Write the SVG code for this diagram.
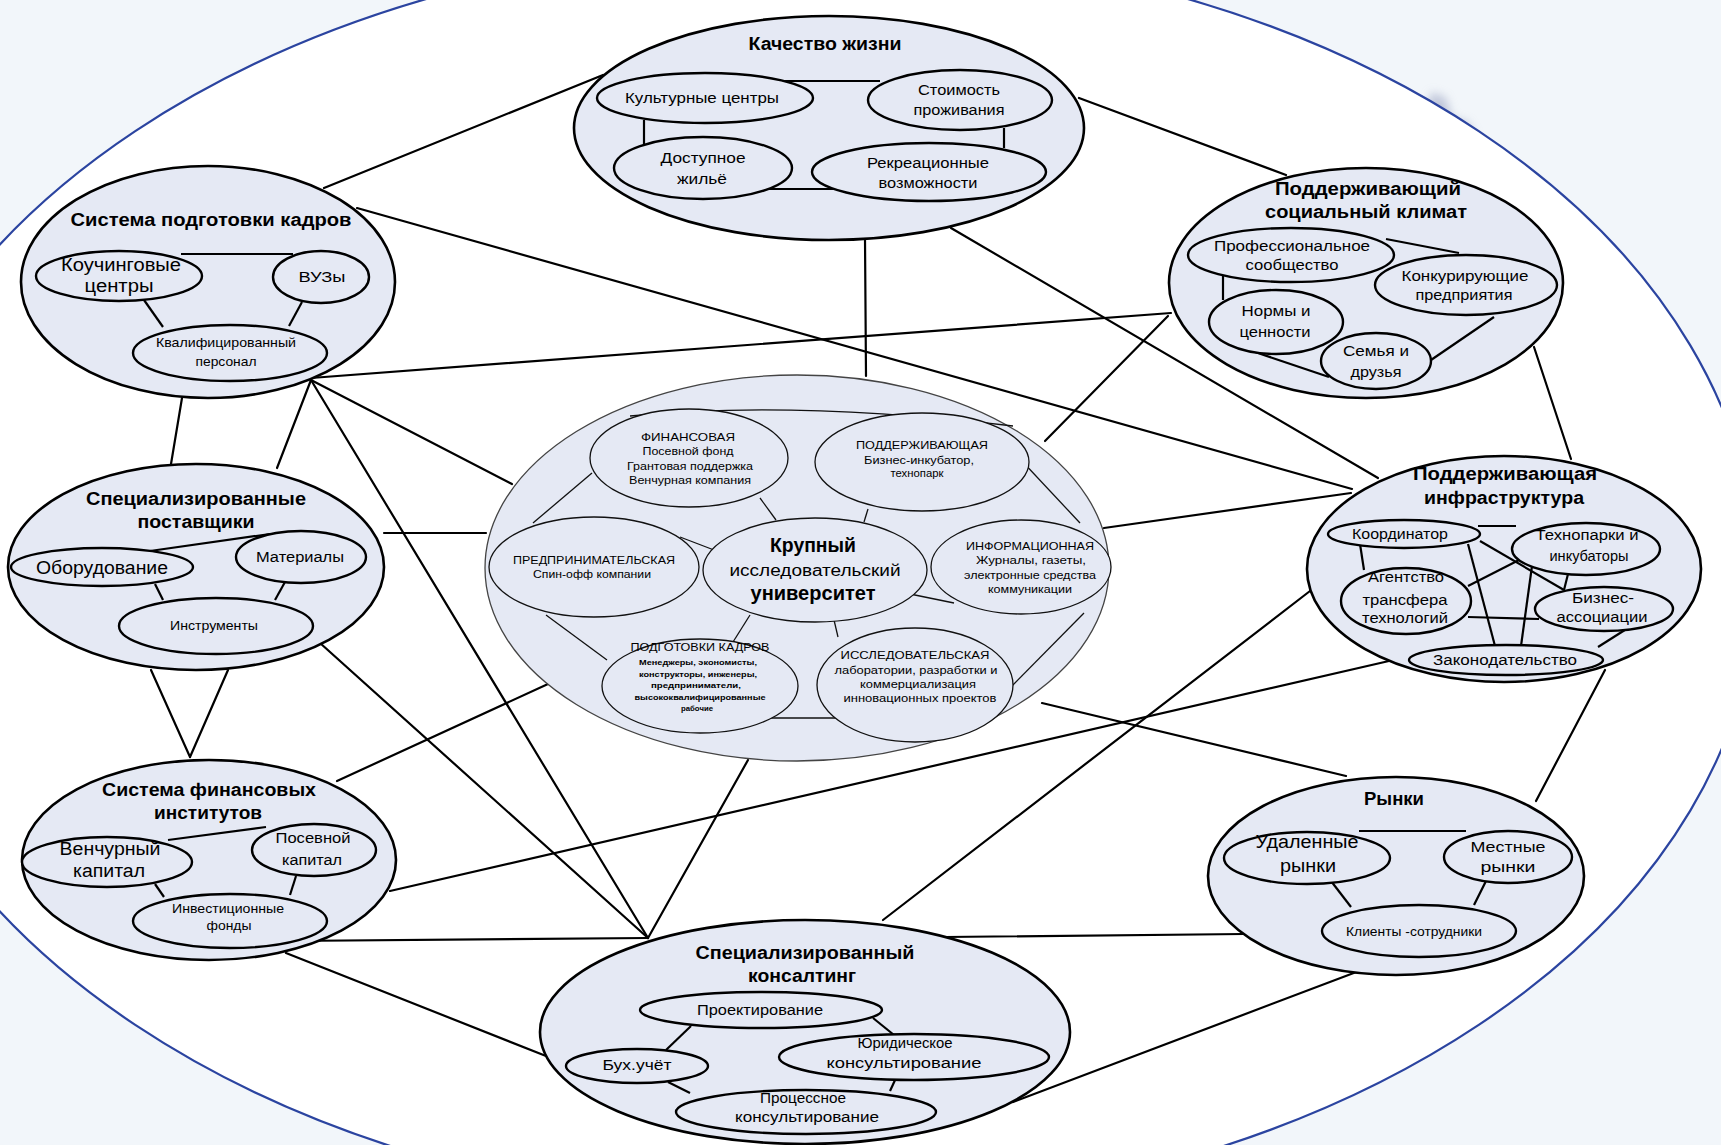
<svg xmlns="http://www.w3.org/2000/svg" width="1721" height="1145" viewBox="0 0 1721 1145">
<style>
.bg{fill:#f2f6fa}
.halo{fill:#ffffff;stroke:#2b44a0;stroke-width:2.2}
.cl{fill:#e5e9f4;stroke:#000;stroke-width:2.6}
.sub{fill:#e5e9f4;stroke:#000;stroke-width:2.4}
.cen{fill:#e5e9f4;stroke:#444;stroke-width:1.3}
.csub{fill:#e5e9f4;stroke:#111;stroke-width:1.3}
.ln{stroke:#000;stroke-width:2.2;fill:none;stroke-linecap:round}
.il{stroke:#000;stroke-width:2.2;fill:none}
.cil{stroke:#111;stroke-width:1.3;fill:none}
text{font-family:"Liberation Sans",Arial,"Noto Sans",sans-serif;text-anchor:middle;fill:#000}
.t{font-weight:bold;font-size:18px}
.s{font-size:14px}
.b{font-size:18px}
.c{font-size:11px}
.cb{font-weight:bold;font-size:20px}
.cm{font-size:16px}
.tiny{font-size:8px;font-weight:bold}
</style>
<defs>
<filter id="blur" x="-50%" y="-50%" width="200%" height="200%"><feGaussianBlur stdDeviation="5"/></filter>
</defs>
<rect class="bg" x="0" y="0" width="1721" height="1145"/>
<path d="M1425,110 L1432,92 L1446,98 L1452,118 L1468,122 L1476,138 L1440,128 Z" fill="#aab2cc" opacity="0.7" filter="url(#blur)"/>
<ellipse class="halo" cx="807" cy="578" rx="950" ry="632"/>

<g id="connectors">
<line class="ln" x1="603" y1="75" x2="324" y2="188"/>
<line class="ln" x1="1079" y1="98" x2="1286" y2="175"/>
<line class="ln" x1="865" y1="239" x2="866" y2="376"/>
<line class="ln" x1="951" y1="228" x2="1378" y2="478"/>
<line class="ln" x1="357" y1="208" x2="1352" y2="489"/>
<line class="ln" x1="311" y1="378" x2="1171" y2="313"/>
<line class="ln" x1="182" y1="398" x2="171" y2="464"/>
<line class="ln" x1="311" y1="380" x2="277" y2="468"/>
<line class="ln" x1="311" y1="380" x2="512" y2="484"/>
<line class="ln" x1="311" y1="380" x2="648" y2="938"/>
<line class="ln" x1="384" y1="533" x2="486" y2="533"/>
<line class="ln" x1="320" y1="643" x2="648" y2="938"/>
<line class="ln" x1="151" y1="670" x2="190" y2="757"/>
<line class="ln" x1="228" y1="670" x2="190" y2="757"/>
<line class="ln" x1="337" y1="781" x2="548" y2="684"/>
<line class="ln" x1="390" y1="891" x2="1389" y2="661"/>
<line class="ln" x1="286" y1="941" x2="648" y2="938"/>
<line class="ln" x1="286" y1="953" x2="546" y2="1056"/>
<line class="ln" x1="748" y1="760" x2="648" y2="938"/>
<line class="ln" x1="883" y1="920" x2="1310" y2="591"/>
<line class="ln" x1="945" y1="937" x2="1244" y2="934"/>
<line class="ln" x1="1013" y1="1102" x2="1359" y2="971"/>
<line class="ln" x1="1042" y1="703" x2="1346" y2="776"/>
<line class="ln" x1="1104" y1="528" x2="1351" y2="493"/>
<line class="ln" x1="1168" y1="316" x2="1045" y2="441"/>
<line class="ln" x1="1534" y1="347" x2="1571" y2="459"/>
<line class="ln" x1="1605" y1="670" x2="1536" y2="801"/>
</g>

<g id="kachestvo">
<ellipse class="cl" cx="829" cy="128" rx="255" ry="112"/>
<line class="il" x1="784" y1="81" x2="880" y2="81"/>
<line class="il" x1="644" y1="120" x2="644" y2="148"/>
<line class="il" x1="1004" y1="128" x2="1004" y2="148"/>
<line class="il" x1="766" y1="189" x2="836" y2="189"/>
<ellipse class="sub" cx="705" cy="98" rx="108" ry="25"/>
<ellipse class="sub" cx="960" cy="100" rx="92" ry="30"/>
<ellipse class="sub" cx="703" cy="168" rx="89" ry="31"/>
<ellipse class="sub" cx="929" cy="172" rx="117" ry="29"/>
<text class="t" x="825" y="50" textLength="153" lengthAdjust="spacingAndGlyphs">Качество жизни</text>
<text class="s" x="702" y="103" textLength="154" lengthAdjust="spacingAndGlyphs">Культурные центры</text>
<text class="s" x="959" y="95" textLength="82" lengthAdjust="spacingAndGlyphs">Стоимость</text>
<text class="s" x="959" y="115" textLength="91" lengthAdjust="spacingAndGlyphs">проживания</text>
<text class="s" x="703" y="163" textLength="85" lengthAdjust="spacingAndGlyphs">Доступное</text>
<text class="s" x="702" y="184" textLength="50" lengthAdjust="spacingAndGlyphs">жильё</text>
<text class="s" x="928" y="168" textLength="122" lengthAdjust="spacingAndGlyphs">Рекреационные</text>
<text class="s" x="928" y="188" textLength="99" lengthAdjust="spacingAndGlyphs">возможности</text>
</g>

<g id="kadry">
<ellipse class="cl" cx="208" cy="282" rx="187" ry="116"/>
<line class="il" x1="181" y1="254" x2="293" y2="254"/>
<line class="il" x1="144" y1="300" x2="163" y2="327"/>
<line class="il" x1="302" y1="302" x2="289" y2="326"/>
<ellipse class="sub" cx="119" cy="276" rx="83" ry="25"/>
<ellipse class="sub" cx="321" cy="277" rx="48" ry="26"/>
<ellipse class="sub" cx="230" cy="353" rx="97" ry="28"/>
<text class="t" x="211" y="226" textLength="281" lengthAdjust="spacingAndGlyphs">Система подготовки кадров</text>
<text class="b" x="121" y="271" textLength="120" lengthAdjust="spacingAndGlyphs">Коучинговые</text>
<text class="b" x="119" y="292" textLength="69" lengthAdjust="spacingAndGlyphs">центры</text>
<text class="s" x="322" y="282" textLength="47" lengthAdjust="spacingAndGlyphs">ВУЗы</text>
<text class="s" x="226" y="347" textLength="140" lengthAdjust="spacingAndGlyphs" style="font-size:13px">Квалифицированный</text>
<text class="s" x="226" y="366" textLength="61" lengthAdjust="spacingAndGlyphs" style="font-size:13px">персонал</text>
</g>

<g id="postavshiki">
<ellipse class="cl" cx="196" cy="567" rx="188" ry="103"/>
<line class="il" x1="150" y1="551" x2="270" y2="534"/>
<line class="il" x1="155" y1="584" x2="163" y2="600"/>
<line class="il" x1="285" y1="582" x2="275" y2="600"/>
<ellipse class="sub" cx="102" cy="567" rx="91" ry="19"/>
<ellipse class="sub" cx="301" cy="557" rx="65" ry="26"/>
<ellipse class="sub" cx="216" cy="626" rx="97" ry="28"/>
<text class="t" x="196" y="505" textLength="220" lengthAdjust="spacingAndGlyphs">Специализированные</text>
<text class="t" x="196" y="528" textLength="117" lengthAdjust="spacingAndGlyphs">поставщики</text>
<text class="b" x="102" y="574" textLength="132" lengthAdjust="spacingAndGlyphs">Оборудование</text>
<text class="s" x="300" y="562" textLength="88" lengthAdjust="spacingAndGlyphs">Материалы</text>
<text class="s" x="214" y="630" textLength="88" lengthAdjust="spacingAndGlyphs" style="font-size:13px">Инструменты</text>
</g>

<g id="finansy">
<ellipse class="cl" cx="209" cy="860" rx="187" ry="100"/>
<line class="il" x1="168" y1="840" x2="266" y2="827"/>
<line class="il" x1="155" y1="884" x2="164" y2="897"/>
<line class="il" x1="296" y1="876" x2="290" y2="895"/>
<ellipse class="sub" cx="107" cy="862" rx="85" ry="25"/>
<ellipse class="sub" cx="314" cy="850" rx="62" ry="26"/>
<ellipse class="sub" cx="230" cy="921" rx="97" ry="27"/>
<text class="t" x="209" y="796" textLength="214" lengthAdjust="spacingAndGlyphs">Система финансовых</text>
<text class="t" x="208" y="819" textLength="108" lengthAdjust="spacingAndGlyphs">институтов</text>
<text class="b" x="110" y="855" textLength="101" lengthAdjust="spacingAndGlyphs">Венчурный</text>
<text class="b" x="109" y="877" textLength="72" lengthAdjust="spacingAndGlyphs">капитал</text>
<text class="s" x="313" y="843" textLength="75" lengthAdjust="spacingAndGlyphs">Посевной</text>
<text class="s" x="312" y="865" textLength="60" lengthAdjust="spacingAndGlyphs">капитал</text>
<text class="s" x="228" y="913" textLength="112" lengthAdjust="spacingAndGlyphs" style="font-size:13px">Инвестиционные</text>
<text class="s" x="229" y="930" textLength="45" lengthAdjust="spacingAndGlyphs" style="font-size:13px">фонды</text>
</g>

<g id="klimat">
<ellipse class="cl" cx="1366" cy="283" rx="197" ry="115"/>
<line class="il" x1="1386" y1="239" x2="1459" y2="253"/>
<line class="il" x1="1223" y1="273" x2="1223" y2="300"/>
<line class="il" x1="1255" y1="352" x2="1329" y2="377"/>
<line class="il" x1="1431" y1="360" x2="1494" y2="317"/>
<ellipse class="sub" cx="1291" cy="255" rx="103" ry="27"/>
<ellipse class="sub" cx="1466" cy="285" rx="91" ry="30"/>
<ellipse class="sub" cx="1276" cy="322" rx="67" ry="32"/>
<ellipse class="sub" cx="1376" cy="361" rx="55" ry="28"/>
<text class="t" x="1368" y="195" textLength="186" lengthAdjust="spacingAndGlyphs">Поддерживающий</text>
<text class="t" x="1366" y="218" textLength="202" lengthAdjust="spacingAndGlyphs">социальный климат</text>
<text class="s" x="1292" y="251" textLength="156" lengthAdjust="spacingAndGlyphs">Профессиональное</text>
<text class="s" x="1292" y="270" textLength="93" lengthAdjust="spacingAndGlyphs">сообщество</text>
<text class="s" x="1465" y="281" textLength="127" lengthAdjust="spacingAndGlyphs">Конкурирующие</text>
<text class="s" x="1464" y="300" textLength="97" lengthAdjust="spacingAndGlyphs">предприятия</text>
<text class="s" x="1276" y="316" textLength="69" lengthAdjust="spacingAndGlyphs">Нормы и</text>
<text class="s" x="1275" y="337" textLength="71" lengthAdjust="spacingAndGlyphs">ценности</text>
<text class="s" x="1376" y="356" textLength="66" lengthAdjust="spacingAndGlyphs">Семья и</text>
<text class="s" x="1376" y="377" textLength="51" lengthAdjust="spacingAndGlyphs">друзья</text>
</g>

<g id="infra">
<ellipse class="cl" cx="1504" cy="569" rx="197" ry="113"/>
<line class="il" x1="1478" y1="526" x2="1516" y2="526"/>
<line class="il" x1="1360" y1="544" x2="1364" y2="570"/>
<line class="il" x1="1468" y1="544" x2="1495" y2="646"/>
<line class="il" x1="1480" y1="541" x2="1564" y2="590"/>
<line class="il" x1="1468" y1="586" x2="1521" y2="559"/>
<line class="il" x1="1532" y1="566" x2="1521" y2="646"/>
<line class="il" x1="1568" y1="574" x2="1564" y2="590"/>
<line class="il" x1="1468" y1="617" x2="1539" y2="619"/>
<line class="il" x1="1598" y1="647" x2="1628" y2="628"/>
<ellipse class="sub" cx="1404" cy="534" rx="76" ry="14"/>
<ellipse class="sub" cx="1586" cy="549" rx="74" ry="26"/>
<ellipse class="sub" cx="1406" cy="601" rx="65" ry="33"/>
<ellipse class="sub" cx="1604" cy="609" rx="69" ry="22"/>
<ellipse class="sub" cx="1506" cy="660" rx="97" ry="15"/>
<text class="t" x="1505" y="480" textLength="184" lengthAdjust="spacingAndGlyphs">Поддерживающая</text>
<text class="t" x="1504" y="504" textLength="160" lengthAdjust="spacingAndGlyphs">инфраструктура</text>
<text class="s" x="1400" y="539" textLength="96" lengthAdjust="spacingAndGlyphs">Координатор</text>
<text class="s" x="1587" y="540" textLength="103" lengthAdjust="spacingAndGlyphs">Технопарки и</text>
<text class="s" x="1589" y="561" textLength="79" lengthAdjust="spacingAndGlyphs">инкубаторы</text>
<text class="s" x="1406" y="582" textLength="76" lengthAdjust="spacingAndGlyphs">Агентство</text>
<text class="s" x="1405" y="605" textLength="85" lengthAdjust="spacingAndGlyphs">трансфера</text>
<text class="s" x="1405" y="623" textLength="86" lengthAdjust="spacingAndGlyphs">технологий</text>
<text class="s" x="1603" y="603" textLength="62" lengthAdjust="spacingAndGlyphs">Бизнес-</text>
<text class="s" x="1602" y="622" textLength="91" lengthAdjust="spacingAndGlyphs">ассоциации</text>
<text class="s" x="1505" y="665" textLength="144" lengthAdjust="spacingAndGlyphs">Законодательство</text>
</g>

<g id="rynki">
<ellipse class="cl" cx="1396" cy="876" rx="188" ry="99"/>
<line class="il" x1="1359" y1="831" x2="1466" y2="831"/>
<line class="il" x1="1331" y1="881" x2="1351" y2="907"/>
<line class="il" x1="1486" y1="881" x2="1474" y2="905"/>
<ellipse class="sub" cx="1307" cy="858" rx="83" ry="26"/>
<ellipse class="sub" cx="1508" cy="857" rx="64" ry="26"/>
<ellipse class="sub" cx="1419" cy="931" rx="97" ry="26"/>
<text class="t" x="1394" y="805" textLength="60" lengthAdjust="spacingAndGlyphs">Рынки</text>
<text class="b" x="1307" y="848" textLength="103" lengthAdjust="spacingAndGlyphs">Удаленные</text>
<text class="b" x="1308" y="872" textLength="56" lengthAdjust="spacingAndGlyphs">рынки</text>
<text class="s" x="1508" y="852" textLength="75" lengthAdjust="spacingAndGlyphs" style="font-size:15px">Местные</text>
<text class="s" x="1508" y="872" textLength="55" lengthAdjust="spacingAndGlyphs" style="font-size:15px">рынки</text>
<text class="s" x="1414" y="936" textLength="136" lengthAdjust="spacingAndGlyphs" style="font-size:13px">Клиенты -сотрудники</text>
</g>

<g id="konsalting">
<ellipse class="cl" cx="805" cy="1032" rx="265" ry="112"/>
<line class="il" x1="691" y1="1026" x2="666" y2="1050"/>
<line class="il" x1="873" y1="1018" x2="894" y2="1035"/>
<line class="il" x1="668" y1="1082" x2="690" y2="1093"/>
<line class="il" x1="896" y1="1078" x2="890" y2="1091"/>
<ellipse class="sub" cx="761" cy="1010" rx="121" ry="18"/>
<ellipse class="sub" cx="637" cy="1066" rx="71" ry="17"/>
<ellipse class="sub" cx="914" cy="1057" rx="135" ry="23"/>
<ellipse class="sub" cx="806" cy="1112" rx="130" ry="22"/>
<text class="t" x="805" y="959" textLength="219" lengthAdjust="spacingAndGlyphs">Специализированный</text>
<text class="t" x="802" y="982" textLength="108" lengthAdjust="spacingAndGlyphs">консалтинг</text>
<text class="s" x="760" y="1015" textLength="126" lengthAdjust="spacingAndGlyphs">Проектирование</text>
<text class="s" x="637" y="1070" textLength="69" lengthAdjust="spacingAndGlyphs">Бух.учёт</text>
<text class="s" x="905" y="1048" textLength="95" lengthAdjust="spacingAndGlyphs">Юридическое</text>
<text class="s" x="904" y="1068" textLength="155" lengthAdjust="spacingAndGlyphs">консультирование</text>
<text class="s" x="803" y="1103" textLength="86" lengthAdjust="spacingAndGlyphs">Процессное</text>
<text class="s" x="807" y="1122" textLength="144" lengthAdjust="spacingAndGlyphs">консультирование</text>
</g>

<g id="universitet">
<ellipse class="cen" cx="797" cy="568" rx="312" ry="193"/>
<path class="cil" d="M630,416 Q792,400 1013,426"/>
<line class="cil" x1="592" y1="473" x2="533" y2="523"/>
<line class="cil" x1="760" y1="498" x2="776" y2="520"/>
<line class="cil" x1="680" y1="537" x2="714" y2="550"/>
<line class="cil" x1="868" y1="509" x2="864" y2="522"/>
<line class="cil" x1="1021" y1="460" x2="1080" y2="523"/>
<line class="cil" x1="910" y1="594" x2="954" y2="603"/>
<line class="cil" x1="1084" y1="613" x2="1006" y2="692"/>
<line class="cil" x1="750" y1="615" x2="733" y2="642"/>
<line class="cil" x1="834" y1="620" x2="838" y2="637"/>
<line class="cil" x1="765" y1="718" x2="840" y2="718"/>
<line class="cil" x1="546" y1="615" x2="607" y2="660"/>
<ellipse class="csub" cx="689" cy="458" rx="99" ry="49"/>
<ellipse class="csub" cx="922" cy="462" rx="107" ry="49"/>
<ellipse class="csub" cx="594" cy="567" rx="105" ry="50"/>
<ellipse class="csub" cx="815" cy="570" rx="112" ry="52"/>
<ellipse class="csub" cx="1021" cy="567" rx="90" ry="47"/>
<ellipse class="csub" cx="700" cy="686" rx="98" ry="47"/>
<ellipse class="csub" cx="915" cy="685" rx="98" ry="57"/>
<text class="c" x="688" y="441" textLength="94" lengthAdjust="spacingAndGlyphs">ФИНАНСОВАЯ</text>
<text class="c" x="688" y="455" textLength="91" lengthAdjust="spacingAndGlyphs">Посевной фонд</text>
<text class="c" x="690" y="470" textLength="126" lengthAdjust="spacingAndGlyphs">Грантовая поддержка</text>
<text class="c" x="690" y="484" textLength="122" lengthAdjust="spacingAndGlyphs">Венчурная компания</text>
<text class="c" x="922" y="449" textLength="132" lengthAdjust="spacingAndGlyphs">ПОДДЕРЖИВАЮЩАЯ</text>
<text class="c" x="919" y="464" textLength="110" lengthAdjust="spacingAndGlyphs">Бизнес-инкубатор,</text>
<text class="c" x="917" y="477" textLength="53" lengthAdjust="spacingAndGlyphs">технопарк</text>
<text class="c" x="594" y="564" textLength="162" lengthAdjust="spacingAndGlyphs">ПРЕДПРИНИМАТЕЛЬСКАЯ</text>
<text class="c" x="592" y="578" textLength="118" lengthAdjust="spacingAndGlyphs">Спин-офф компании</text>
<text class="cb" x="813" y="552" textLength="86" lengthAdjust="spacingAndGlyphs">Крупный</text>
<text class="cm" x="815" y="576" textLength="171" lengthAdjust="spacingAndGlyphs">исследовательский</text>
<text class="cb" x="813" y="600" textLength="125" lengthAdjust="spacingAndGlyphs">университет</text>
<text class="c" x="1030" y="550" textLength="128" lengthAdjust="spacingAndGlyphs">ИНФОРМАЦИОННАЯ</text>
<text class="c" x="1031" y="564" textLength="110" lengthAdjust="spacingAndGlyphs">Журналы, газеты,</text>
<text class="c" x="1030" y="579" textLength="132" lengthAdjust="spacingAndGlyphs">электронные средства</text>
<text class="c" x="1030" y="593" textLength="84" lengthAdjust="spacingAndGlyphs">коммуникации</text>
<text class="c" x="700" y="651" textLength="139" lengthAdjust="spacingAndGlyphs">ПОДГОТОВКИ КАДРОВ</text>
<text class="tiny" x="698" y="665" textLength="118" lengthAdjust="spacingAndGlyphs">Менеджеры, экономисты,</text>
<text class="tiny" x="698" y="677" textLength="118" lengthAdjust="spacingAndGlyphs">конструкторы, инженеры,</text>
<text class="tiny" x="696" y="688" textLength="90" lengthAdjust="spacingAndGlyphs">предприниматели,</text>
<text class="tiny" x="700" y="700" textLength="131" lengthAdjust="spacingAndGlyphs">высококвалифицированные</text>
<text class="tiny" x="697" y="711" textLength="32" lengthAdjust="spacingAndGlyphs">рабочие</text>
<text class="c" x="915" y="659" textLength="149" lengthAdjust="spacingAndGlyphs">ИССЛЕДОВАТЕЛЬСКАЯ</text>
<text class="c" x="916" y="674" textLength="163" lengthAdjust="spacingAndGlyphs">лаборатории, разработки и</text>
<text class="c" x="918" y="688" textLength="116" lengthAdjust="spacingAndGlyphs">коммерциализация</text>
<text class="c" x="920" y="702" textLength="153" lengthAdjust="spacingAndGlyphs">инновационных проектов</text>
</g>
</svg>
